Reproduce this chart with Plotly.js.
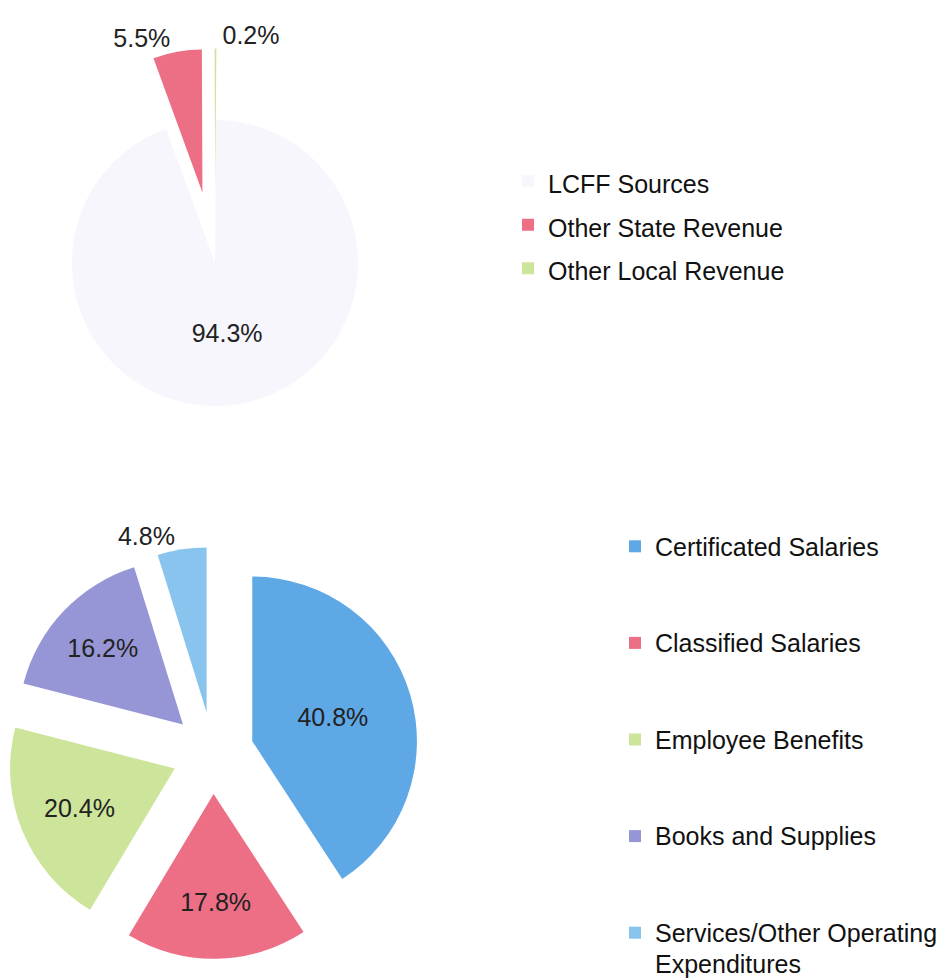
<!DOCTYPE html>
<html>
<head>
<meta charset="utf-8">
<script src="https://cdn.plot.ly/plotly-3.0.1.min.js"></script>
<style>
  html, body { margin: 0; padding: 0; background: #ffffff; }
  #chart { width: 945px; height: 980px; }
</style>
</head>
<body>
<div id="chart"></div>
<script>
// Revenue pie (top)
const revenueCategories = ["LCFF Sources", "Other State Revenue", "Other Local Revenue"];
const revenueValues = [94.3, 5.5, 0.2];
const revenueColors = ["#F6F6FC", "#EC6F86", "#CDE59A"];

// Expenditure pie (bottom); the last category wraps onto two lines
const expenseCategories = ["Certificated Salaries", "Classified Salaries", "Employee Benefits", "Books and Supplies", "Services/Other Operating|Expenditures"];
const expenseValues = [40.8, 17.8, 20.4, 16.2, 4.8];
const expenseColors = ["#5FA8E6", "#EC6F86", "#CDE59A", "#9696D6", "#88C4EE"];

const FONT = "Liberation Sans, Arial, Helvetica, sans-serif";
const span = s => '<span style="font-size:25px">' + s + '</span>';

// legend labels: text kept at 25px, blank lines only add vertical room between entries
const revenueLabels = revenueCategories.map(span);
const expenseLabels = expenseCategories.map(s => {
  const parts = s.split("|");
  return parts.length > 1
    ? " <br>" + parts.map(span).join("<br>")
    : " <br>" + span(s) + "<br> ";
});

const revenueTrace = {
  type: "pie",
  labels: revenueLabels,
  values: revenueValues,
  sort: false,
  direction: "clockwise",
  rotation: 0.5,
  pull: [0, 0.5, 0.5],
  marker: { colors: revenueColors, line: { width: 0 } },
  texttemplate: "%{value:.1f}%",
  textposition: ["inside", "outside", "outside"],
  insidetextorientation: "horizontal",
  textfont: { family: FONT, size: 25, color: "#222222" },
  domain: { x: [0.0005, 0.4545], y: [0.5128, 0.9505] },
  hoverinfo: "skip",
  legend: "legend",
  showlegend: true
};

const expenseTrace = {
  type: "pie",
  labels: expenseLabels,
  values: expenseValues,
  sort: false,
  direction: "clockwise",
  rotation: 0,
  pull: [0.25, 0.25, 0.25, 0.25, 0.25],
  marker: { colors: expenseColors, line: { width: 0 } },
  texttemplate: "%{value:.1f}%",
  textposition: ["inside", "inside", "inside", "inside", "outside"],
  insidetextorientation: "horizontal",
  textfont: { family: FONT, size: 25, color: "#222222" },
  domain: { x: [0.0074, 0.443], y: [0.0214, 0.442] },
  hoverinfo: "skip",
  legend: "legend2",
  showlegend: true
};

const layout = {
  width: 945,
  height: 980,
  margin: { l: 0, r: 0, t: 0, b: 0, autoexpand: false },
  paper_bgcolor: "#ffffff",
  plot_bgcolor: "#ffffff",
  font: { family: FONT, size: 25, color: "#111111" },
  legend: {
    x: 0.5376, xanchor: "left",
    y: 0.7704, yanchor: "middle",
    font: { family: FONT, size: 31.15, color: "#111111" },
    bgcolor: "rgba(0,0,0,0)",
    traceorder: "normal"
  },
  legend2: {
    x: 0.6508, xanchor: "left",
    y: 0.2449, yanchor: "middle",
    font: { family: FONT, size: 24, color: "#111111" },
    bgcolor: "rgba(0,0,0,0)",
    traceorder: "normal"
  }
};

Plotly.newPlot("chart", [revenueTrace, expenseTrace], layout, { staticPlot: true, displayModeBar: false });
</script>
</body>
</html>
